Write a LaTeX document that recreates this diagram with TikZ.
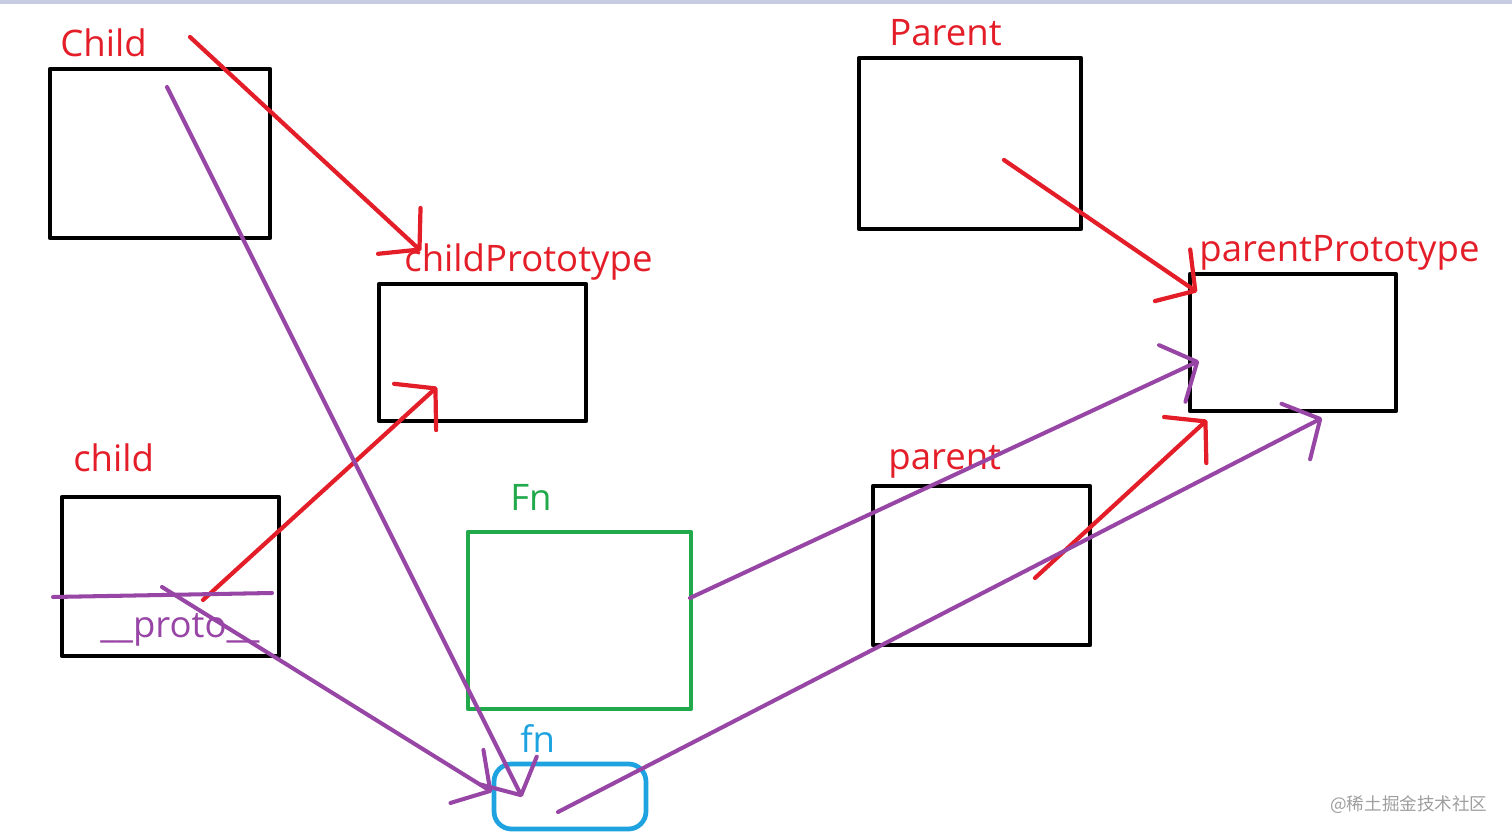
\documentclass[tikz,border=0pt]{standalone}
\usepackage{fontspec}
\setmainfont{Open Sans}
\newfontfamily\cjk{Noto Sans CJK SC}
\usetikzlibrary{arrows.meta,positioning}

\definecolor{paintred}{HTML}{E41E28}
\definecolor{paintpurple}{HTML}{9846A6}
\definecolor{paintgreen}{HTML}{22A94B}
\definecolor{paintblue}{HTML}{1EA3E0}
\definecolor{topbar}{HTML}{C8CCE2}

\begin{document}
\begin{tikzpicture}[x=0.02cm,y=-0.02cm,line cap=round,line join=round,
  >={Straight Barb[length=0.55cm,width=1.25cm,round]}]
\tikzstyle{box}=[draw,line width=2.7pt,inner sep=0pt]
\tikzstyle{lbl}=[anchor=base west,inner sep=0pt,font=\fontsize{20.8}{24}\selectfont]
\tikzstyle{redline}=[->,draw=paintred,line width=2.4pt]
\tikzstyle{purpleline}=[->,draw=paintpurple,line width=2.3pt]

\useasboundingbox (0,0) rectangle (1512,837);
\fill[topbar] (0,0) rectangle (1512,4);

% boxes
\node[box,minimum width=4.4cm,minimum height=3.38cm]   (Child)  at (160,153.5) {};
\node[box,minimum width=4.14cm,minimum height=2.74cm]  (childPrototype) at (482.5,352.5) {};
\node[box,minimum width=4.44cm,minimum height=3.42cm]  (Parent) at (970,143.5) {};
\node[box,minimum width=4.12cm,minimum height=2.74cm]  (parentPrototype) at (1293,342.5) {};
\node[box,minimum width=4.34cm,minimum height=3.18cm]  (child)  at (170.5,576.5) {};
\node[box,minimum width=4.34cm,minimum height=3.18cm]  (parent) at (981.5,565.5) {};
\node[box,draw=paintgreen,minimum width=4.46cm,minimum height=3.54cm] (Fn) at (579.5,620.5) {};
\node[box,draw=paintblue,rounded corners=0.35cm,minimum width=3.04cm,minimum height=1.3cm] (fn) at (570,796.5) {};

% labels
\node[lbl,text=paintred] (tChild) at (60,57) {Child};
\node[lbl,text=paintred] (tchildPrototype) at (404,272) {childPrototype};
\node[lbl,text=paintred] (tParent) at (889,46) {Parent};
\node[lbl,text=paintred] (tparentPrototype) at (1199,262) {parentPrototype};
\node[lbl,text=paintred] (tchild) at (73,472) {child};
\node[lbl,text=paintred] (tparent) at (888,470) {parent};
\node[lbl,text=paintgreen] (tFn) at (510,511) {Fn};
\node[lbl,text=paintblue] (tfn) at (520,752) {fn};
\node[lbl,text=paintpurple] (tproto) at (100,638) {\_\_proto\_\_};
\node[anchor=base west,inner sep=0pt,text=black!38,font=\cjk\fontsize{10}{12}\selectfont] (mark) at (1330,810) {@稀土掘金技术社区};

% end points
\coordinate (ChildTop) at (190,37);
\coordinate (ChildIn) at (167,87);
\coordinate (cpTip) at (421,251);
\coordinate (childIn) at (203,600);
\coordinate (cpIn) at (437,387);
\coordinate (ParentIn) at (1004,160);
\coordinate (ppTop) at (1197,292);
\coordinate (parentIn) at (1035,578);
\coordinate (ppLow) at (1207,420);
\coordinate (protoL) at (53,597);
\coordinate (protoR) at (272,593);
\coordinate (protoIn) at (162,587);
\coordinate (fnLeft) at (492,792);
\coordinate (fnTip) at (522,797);
\coordinate (FnRight) at (690,598);
\coordinate (ppMid) at (1199,361);
\coordinate (fnIn) at (558,812);
\coordinate (ppBot) at (1322,418);

\path
(ChildTop) edge[redline] (cpTip)
(childIn) edge[redline] (cpIn)
(ParentIn) edge[redline] (ppTop)
(parentIn) edge[redline] (ppLow)
(protoL) edge[purpleline,-] (protoR)
(ChildIn) edge[purpleline] (fnTip)
(protoIn) edge[purpleline] (fnLeft)
(FnRight) edge[purpleline] (ppMid)
(fnIn) edge[purpleline] (ppBot)
;
\end{tikzpicture}
\end{document}
